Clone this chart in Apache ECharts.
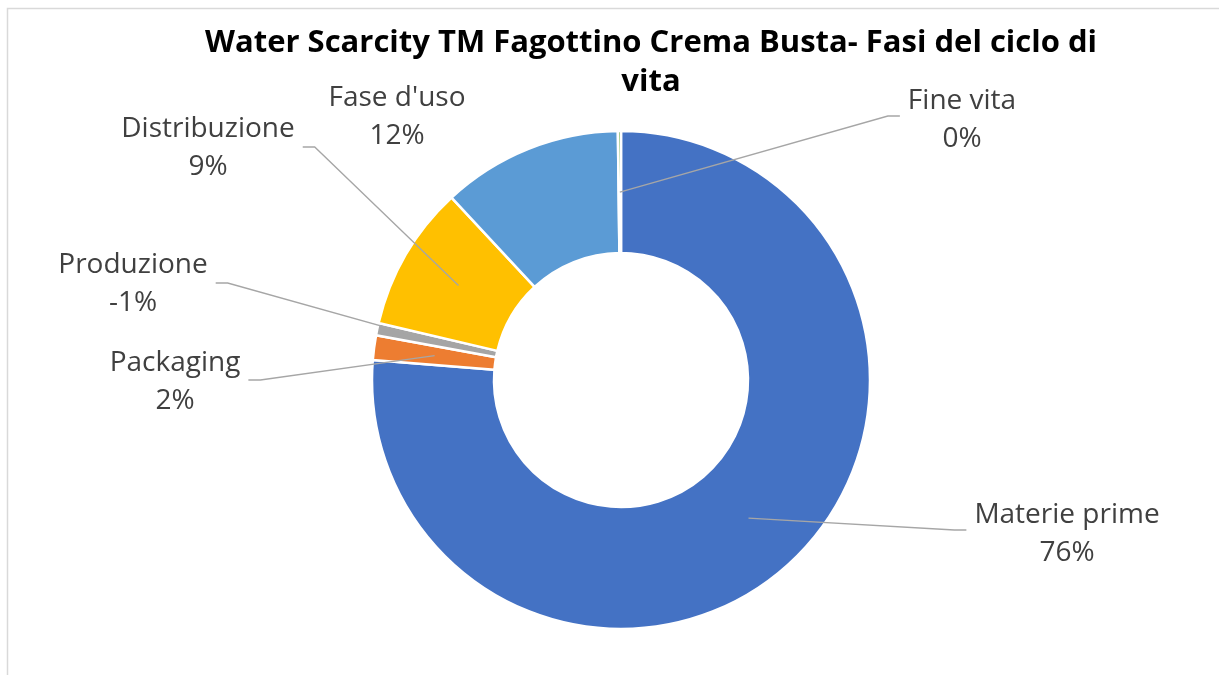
<!DOCTYPE html>
<html>
<head>
<meta charset="utf-8">
<title>Water Scarcity TM Fagottino Crema Busta</title>
<script src="https://cdn.jsdelivr.net/npm/echarts@6/dist/echarts.min.js"></script>
<style>
  html, body { margin: 0; padding: 0; background: #fff; }
  #main { width: 1219px; height: 675px; }
</style>
</head>
<body>
<div id="main"></div>
<script>
// fasi del ciclo di vita (valori in %)
let categories = ['Materie prime', 'Packaging', 'Produzione', 'Distribuzione', "Fase d'uso", 'Fine vita'];
let values = [76.2, 1.6, -0.8, 9.4, 11.7, 0.2];
let colors = ['#4472C4', '#ED7D31', '#A5A5A5', '#FFC000', '#5B9BD5', '#70AD47'];

// posizione delle etichette (stile Excel, spostate a mano)
let labelPos = [[1067, 534], [175, 382], [133, 284], [208, 148], [397, 117], [962, 120]];
let lineDy = [-4, -2, -1, -1, 0, -4];
let center = [621, 380];
let radius = [127, 249];

let absSum = 0;
values.forEach(function (v) { absSum += Math.abs(v); });

// il grafico a torta non accetta negativi: si usa il valore assoluto
let ringData = categories.map(function (name, i) {
    return { name: name, value: Math.abs(values[i]), itemStyle: { color: colors[i] } };
});

let labelData = categories.map(function (name, i) {
    let item = { name: name, value: Math.abs(values[i]), signed: values[i] };
    if (name === "Fase d'uso") {
        item.labelLine = { show: false };
    }
    return item;
});

const myChart = echarts.init(document.getElementById('main'));

const option = {
    backgroundColor: '#fff',
    animation: false,
    graphic: [{
        type: 'polyline',
        shape: { points: [[7.5, 700], [7.5, 8.5], [1300, 8.5]] },
        style: { stroke: '#D9D9D9', lineWidth: 1.5, fill: null },
        silent: true
    }],
    title: {
        text: 'Water Scarcity TM Fagottino Crema Busta- Fasi del ciclo di\nvita',
        left: 646,
        top: 19,
        textAlign: 'center',
        textStyle: {
            fontFamily: 'Open Sans',
            fontWeight: 'bold',
            fontSize: 31,
            lineHeight: 39,
            color: '#000'
        }
    },
    series: [{
        name: 'Water Scarcity',
        type: 'pie',
        z: 2,
        center: center,
        radius: radius,
        startAngle: 90,
        clockwise: true,
        itemStyle: {
            borderColor: '#fff',
            borderWidth: 2.5
        },
        label: { show: false },
        labelLine: { show: false },
        data: ringData
    }, {
        // serie trasparente: solo etichette e linee guida, che partono da meta' anello
        name: 'etichette',
        type: 'pie',
        z: 5,
        silent: true,
        center: center,
        radius: [0, (radius[0] + radius[1]) / 2],
        startAngle: 90,
        clockwise: true,
        avoidLabelOverlap: false,
        itemStyle: {
            color: 'rgba(0,0,0,0)',
            borderWidth: 0
        },
        label: {
            show: true,
            position: 'outside',
            fontFamily: 'Open Sans',
            fontSize: 28,
            lineHeight: 38,
            color: '#404040',
            align: 'center',
            formatter: function (params) {
                let pct = Math.round(params.data.signed / absSum * 100);
                return params.name + '\n' + pct + '%';
            }
        },
        labelLine: {
            show: true,
            length: 10,
            length2: 10,
            lineStyle: { color: '#A6A6A6', width: 1.3 }
        },
        labelLayout: function (params) {
            const i = params.dataIndex;
            const p = labelPos[i];
            const res = { x: p[0], y: p[1], align: 'center', verticalAlign: 'middle' };
            const pts = params.labelLinePoints;
            if (pts && pts.length) {
                const w = params.labelRect.width;
                const right = p[0] > center[0];
                const ex = right ? p[0] - w / 2 - 8 : p[0] + w / 2 + 8;
                const ey = p[1] + lineDy[i];
                const elbow = [right ? ex - 12 : ex + 12, ey];
                res.labelLinePoints = [pts[0], elbow, [ex, ey]];
            }
            return res;
        },
        data: labelData
    }]
};

if (option && typeof option === "object") {
    myChart.setOption(option, true);
}
</script>
</body>
</html>
